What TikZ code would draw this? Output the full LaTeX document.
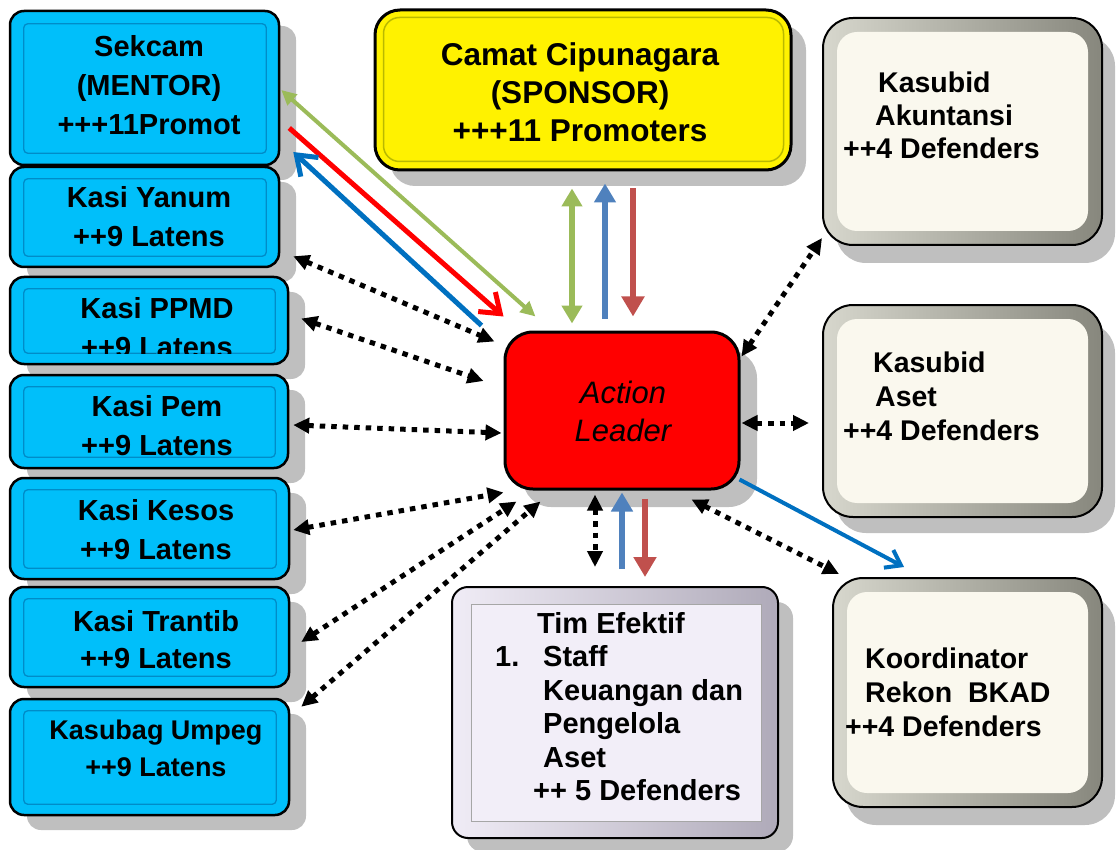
\documentclass[tikz,border=0pt]{standalone}
\usepackage{fontspec}
\setmainfont{Liberation Sans}
\usetikzlibrary{arrows.meta,calc}
\definecolor{skyb}{RGB}{0,191,250}
\definecolor{skyline}{RGB}{0,140,200}
\definecolor{shad}{RGB}{191,191,191}
\definecolor{ygreen}{RGB}{155,187,89}
\definecolor{dblue}{RGB}{0,112,192}
\definecolor{sblue}{RGB}{79,129,189}
\definecolor{sred}{RGB}{192,80,77}
\definecolor{cream}{RGB}{250,248,238}
\definecolor{bevl}{RGB}{215,215,205}
\definecolor{bevr}{RGB}{135,135,125}
\definecolor{lav}{RGB}{242,238,248}
\definecolor{lavl}{RGB}{240,236,246}
\definecolor{lavr}{RGB}{175,170,185}
\definecolor{ydark}{RGB}{185,185,0}
\tikzset{
  bluebox/.style={draw=black, line width=2.5pt, fill=skyb, rounded corners=14pt, inner sep=0pt},
  bluein/.style={draw=skyline, line width=1.3pt, rounded corners=4pt},
  creambox/.style={draw=black, line width=2pt, left color=bevl, right color=bevr, rounded corners=30pt, inner sep=0pt},
  creamin/.style={fill=cream, rounded corners=20pt},
  shadowfill/.style={fill=shad},
  lbl/.style={font=\fontsize{29}{39}\selectfont\bfseries, align=center, inner sep=0pt},
  rlbl/.style={font=\fontsize{28.5}{33}\selectfont\bfseries, align=left, inner sep=0pt, anchor=west},
  dotarr/.style={line width=5pt, dash pattern=on 5.5pt off 6pt, {Triangle[length=16pt,width=15pt]}-{Triangle[length=16pt,width=15pt]}},
  garrow/.style={ygreen, line width=4pt, {Triangle[length=15pt,width=14pt]}-{Triangle[length=15pt,width=14pt]}},
  rarrow/.style={red, line width=5pt, -{Straight Barb[length=18pt,width=26pt]}},
  barrow/.style={dblue, line width=5pt, -{Straight Barb[length=18pt,width=26pt]}},
  barrowthin/.style={dblue, line width=4pt, -{Straight Barb[length=14pt,width=20pt]}},
  vg/.style={ygreen, line width=6pt, {Triangle[length=18pt,width=20pt]}-{Triangle[length=18pt,width=20pt]}},
  vb/.style={sblue, line width=6.5pt, -{Triangle[length=19pt,width=21pt]}},
  vr/.style={sred, line width=6.5pt, -{Triangle[length=20pt,width=22pt]}},
}
\begin{document}
\begin{tikzpicture}[x=1pt,y=-1pt]
\useasboundingbox (0,0) rectangle (1116,850);
% shadows
\fill[shadowfill, rounded corners=14pt] (27,26) rectangle (296,180);
\fill[shadowfill, rounded corners=14pt] (27,182) rectangle (296,282);
\fill[shadowfill, rounded corners=14pt] (27,292) rectangle (305,379);
\fill[shadowfill, rounded corners=14pt] (27,390) rectangle (305,483);
\fill[shadowfill, rounded corners=14pt] (27,493) rectangle (306,594);
\fill[shadowfill, rounded corners=14pt] (27,602) rectangle (306,702);
\fill[shadowfill, rounded corners=14pt] (27,714) rectangle (306,830);
\fill[shadowfill, rounded corners=25pt] (390,25) rectangle (806,186);
\fill[shadowfill, rounded corners=28pt] (523,350) rectangle (757,507);
\fill[shadowfill, rounded corners=30pt] (836,36) rectangle (1115,263);
\fill[shadowfill, rounded corners=30pt] (836,323) rectangle (1115,533);
\fill[shadowfill, rounded corners=30pt] (846,596) rectangle (1115,825);
\fill[shadowfill, rounded corners=16pt] (467,602) rectangle (793,852);

% left blue boxes
\node[bluebox, minimum width=269pt, minimum height=154pt] (sek) at (144.5,88) {};
\draw[bluein] ($(sek.north west)+(15,14)$) rectangle ($(sek.south east)+(-14,-13)$);
\node[lbl] (sekt) at (149,85) {Sekcam\\(MENTOR)\\+++11Promot};

\node[bluebox, minimum width=269pt, minimum height=100pt] (yan) at (144.5,217) {};
\draw[bluein] ($(yan.north west)+(15,13)$) rectangle ($(yan.south east)+(-14,-12)$);
\node[lbl] (yant) at (149,217) {Kasi Yanum\\++9 Latens};

\node[bluebox, minimum width=278pt, minimum height=87pt] (ppmd) at (149,320.5) {};
\draw[bluein] ($(ppmd.north west)+(15,13)$) rectangle ($(ppmd.south east)+(-14,-12)$);
\begin{scope}
\clip ($(ppmd.north west)+(15,13)$) rectangle ($(ppmd.south east)+(-14,-12)$);
\node[lbl] (ppmdt) at (157,328) {Kasi PPMD\\++9 Latens};
\end{scope}

\node[bluebox, minimum width=278pt, minimum height=93pt] (pem) at (149,421.5) {};
\draw[bluein] ($(pem.north west)+(15,13)$) rectangle ($(pem.south east)+(-14,-12)$);
\begin{scope}
\clip ($(pem.north west)+(15,13)$) rectangle ($(pem.south east)+(-14,-12)$);
\node[lbl] (pemt) at (157,426) {Kasi Pem\\++9 Latens};
\end{scope}

\node[bluebox, minimum width=279pt, minimum height=101pt] (kes) at (149.5,528.5) {};
\draw[bluein] ($(kes.north west)+(15,13)$) rectangle ($(kes.south east)+(-14,-12)$);
\node[lbl] (kest) at (156,530) {Kasi Kesos\\++9 Latens};

\node[bluebox, minimum width=279pt, minimum height=100pt] (tra) at (149.5,637) {};
\draw[bluein] ($(tra.north west)+(15,13)$) rectangle ($(tra.south east)+(-14,-12)$);
\node[lbl, font=\fontsize{29}{37}\selectfont\bfseries] (trat) at (156,640) {Kasi Trantib\\++9 Latens};

\node[bluebox, minimum width=279pt, minimum height=116pt] (ump) at (149.5,757) {};
\draw[bluein] ($(ump.north west)+(15,13)$) rectangle ($(ump.south east)+(-14,-12)$);
\node[lbl, font=\fontsize{27}{37}\selectfont\bfseries] (umpt) at (156,748) {Kasubag Umpeg\\++9 Latens};

% sponsor
\node[draw=black, line width=3pt, fill=yellow, rounded corners=25pt, minimum width=416pt, minimum height=160pt, inner sep=0pt] (sp) at (583,90) {};
\draw[ydark, line width=1.5pt, rounded corners=16pt] ($(sp.north west)+(10,9)$) rectangle ($(sp.south east)+(-9,-10)$);
\node[font=\fontsize{31.5}{38}\selectfont\bfseries, align=center, inner sep=0pt] (spt) at (580,92) {Camat Cipunagara\\(SPONSOR)\\+++11 Promoters};

% action leader
\node[draw=black, line width=3pt, fill=red, rounded corners=28pt, minimum width=234pt, minimum height=157pt, inner sep=0pt] (al) at (622,410.5) {};
\node[font=\fontsize{31}{38}\selectfont\itshape, align=center, inner sep=0pt] (alt) at (623,411) {Action\\Leader};

% right cream boxes
\node[creambox, minimum width=279pt, minimum height=227pt] (ak) at (962.5,131.5) {};
\fill[creamin] ($(ak.north west)+(15,15)$) rectangle ($(ak.south east)+(-15,-15)$);
\node[rlbl] (akt) at (843,115) {\hspace*{35pt}Kasubid\\\hspace*{32pt}Akuntansi\\++4 Defenders};

\node[creambox, minimum width=279pt, minimum height=212pt] (aset) at (962.5,411) {};
\fill[creamin] ($(aset.north west)+(15,15)$) rectangle ($(aset.south east)+(-15,-15)$);
\node[rlbl, font=\fontsize{28.5}{34}\selectfont\bfseries] (asett) at (843,396) {\hspace*{30pt}Kasubid\\\hspace*{32pt}Aset\\++4 Defenders};

\node[creambox, minimum width=269pt, minimum height=229pt] (koor) at (967.5,692.5) {};
\fill[creamin] ($(koor.north west)+(15,15)$) rectangle ($(koor.south east)+(-15,-15)$);
\node[rlbl, font=\fontsize{28.5}{34}\selectfont\bfseries] (koort) at (845,692) {\hspace*{20pt}Koordinator\\\hspace*{20pt}Rekon\ \ BKAD\\++4 Defenders};

% tim efektif
\node[draw=black, line width=2pt, left color=lavl, right color=lavr, rounded corners=16pt, minimum width=326pt, minimum height=251pt, inner sep=0pt] (tim) at (615,712.5) {};
\draw[fill=lav, draw=gray!70, line width=1pt] ($(tim.north west)+(20,18)$) rectangle ($(tim.south east)+(-18,-18)$);
\node[rlbl, font=\fontsize{29}{33.5}\selectfont\bfseries] (timt) at (495,706.5) {\hspace*{42pt}Tim Efektif\\\makebox[48pt][l]{1.}Staff\\\hspace*{48pt}Keuangan dan\\\hspace*{48pt}Pengelola\\\hspace*{48pt}Aset\\\hspace*{38pt}++ 5 Defenders};

% diagonal arrows to sekcam
\draw[garrow] ($(sek.east)+(1,2)$) -- ($(al.north west)+(32,-14)$);
\draw[rarrow] ($(sek.east)+(9,40)$) -- ($(al.north west)+(0,-14)$);
\draw[barrow] ($(al.north west)+(-22,-5)$) -- ($(sek.east)+(13,64)$);

% vertical arrows sponsor
\draw[vg] ($(sp.south)+(-11,17)$) -- ($(al.north)+(-50,-7)$);
\draw[vb] ($(al.north)+(-17,-12)$) -- ($(sp.south)+(22,12)$);
\draw[vr] ($(sp.south)+(50,17)$) -- ($(al.north)+(11,-14)$);

% vertical arrows tim
\draw[dotarr] ($(al.south)+(-27,4)$) -- ($(tim.north)+(-20,-19)$);
\draw[vb] ($(tim.north)+(7,-17)$) -- ($(al.south)+(0,2)$);
\draw[vr] ($(al.south)+(23,8)$) -- ($(tim.north)+(30,-9)$);

% dotted arrows left
\draw[dotarr] ($(yan.south east)+(13,-12)$) -- ($(al.north west)+(-9,11)$);
\draw[dotarr] ($(ppmd.east)+(12,-2)$) -- ($(al.west)+(-20,-29.5)$);
\draw[dotarr] ($(pem.east)+(4,3.5)$) -- ($(al.west)+(-2,22.5)$);
\draw[dotarr] ($(kes.east)+(3,1.5)$) -- ($(al.south west)+(0,2)$);
\draw[dotarr] ($(tra.east)+(11,5)$) -- ($(al.south west)+(13,11)$);
\draw[dotarr] ($(ump.north east)+(11,9)$) -- ($(al.south west)+(37,11)$);

% dotted arrows right
\draw[dotarr] ($(al.north east)+(1,26)$) -- ($(ak.south west)+(0,-8)$);
\draw[dotarr] ($(al.east)+(1,12.5)$) -- ($(aset.west)+(-13,12)$);
\draw[dotarr] ($(al.south east)+(-49,9)$) -- ($(koor.north west)+(7,-3)$);
\draw[barrowthin] ($(al.south east)+(-1,-11)$) -- ($(koor.north west)+(72,-10)$);
\end{tikzpicture}
\end{document}
